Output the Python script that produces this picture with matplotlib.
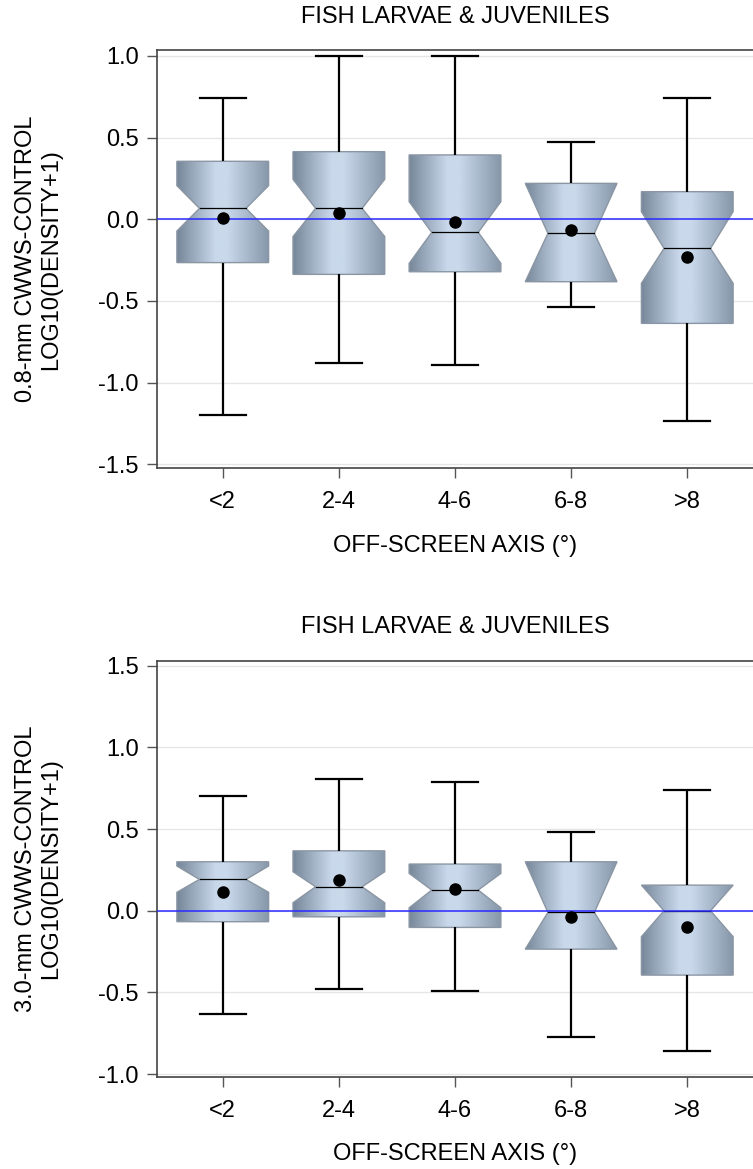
import numpy as np
import matplotlib.pyplot as plt
from matplotlib.colors import LinearSegmentedColormap
from matplotlib.patches import Polygon

plt.rcParams['font.family'] = ['Liberation Sans', 'DejaVu Sans']

cats = ['<2', '2-4', '4-6', '6-8', '>8']

# top panel: 0.8-mm CWWS minus control, log10(density+1)
top_whislo = [-1.20, -0.88, -0.89, -0.535, -1.235]
top_q1 = [-0.265, -0.337, -0.321, -0.382, -0.637]
top_notch_lo = [-0.072, -0.106, -0.27, -0.382, -0.392]
top_med = [0.067, 0.067, -0.080, -0.086, -0.178]
top_notch_hi = [0.206, 0.245, 0.108, 0.220, 0.047]
top_q3 = [0.355, 0.414, 0.394, 0.220, 0.169]
top_whishi = [0.744, 1.0, 1.0, 0.475, 0.740]
top_mean = [0.010, 0.040, -0.018, -0.065, -0.233]

# bottom panel: 3.0-mm CWWS minus control
bot_whislo = [-0.633, -0.479, -0.490, -0.772, -0.857]
bot_q1 = [-0.067, -0.037, -0.102, -0.235, -0.394]
bot_notch_lo = [0.113, 0.049, 0.018, -0.235, -0.159]
bot_med = [0.192, 0.147, 0.127, -0.010, 0.0]
bot_notch_hi = [0.274, 0.239, 0.229, 0.300, 0.157]
bot_q3 = [0.300, 0.367, 0.286, 0.300, 0.157]
bot_whishi = [0.704, 0.805, 0.786, 0.484, 0.739]
bot_mean = [0.113, 0.188, 0.133, -0.040, -0.102]

box_cmap = LinearSegmentedColormap.from_list(
    'box', [(0.0, '#77879a'), (0.42, '#c9d9eb'), (0.55, '#c9d9eb'), (1.0, '#8797aa')])
grad = np.linspace(0, 1, 256).reshape(1, -1)


def notched_box(ax, x, lo, q1, nlo, med, nhi, q3, hi, mean, w=0.79, nw=0.40):
    # outline: right side top->bottom, then left side bottom->top
    right = [(x + w / 2, q3)]
    if nhi < q3:
        right.append((x + w / 2, nhi))
    right.append((x + nw / 2, med))
    if nlo > q1:
        right.append((x + w / 2, nlo))
    right.append((x + w / 2, q1))
    left = [(2 * x - px, py) for px, py in right[::-1]]
    poly = Polygon(right + left, closed=True, facecolor='none',
                   edgecolor='#8a96a3', lw=1.0, zorder=3)
    ax.add_patch(poly)
    im = ax.imshow(grad, cmap=box_cmap, extent=(x - w / 2, x + w / 2, q1, q3),
                   aspect='auto', zorder=2, interpolation='bilinear')
    im.set_clip_path(poly)
    # whiskers + caps
    ax.plot([x, x], [q3, hi], color='black', lw=1.6, zorder=3, solid_capstyle='butt')
    ax.plot([x, x], [q1, lo], color='black', lw=1.6, zorder=3, solid_capstyle='butt')
    ax.plot([x - 0.2, x + 0.2], [hi, hi], color='black', lw=1.6, zorder=3)
    ax.plot([x - 0.2, x + 0.2], [lo, lo], color='black', lw=1.6, zorder=3)
    ax.plot([x - nw / 2, x + nw / 2], [med, med], color='black', lw=0.9, zorder=4)
    ax.plot([x], [mean], 'o', color='black', ms=8, zorder=5)


def panel(ax, whislo, q1, nlo, med, nhi, q3, whishi, mean, ylim, ylabel):
    pos = np.arange(1, len(cats) + 1)
    for i in range(len(cats)):
        notched_box(ax, pos[i], whislo[i], q1[i], nlo[i], med[i], nhi[i],
                    q3[i], whishi[i], mean[i])
    ax.axhline(0, color='#2a2aff', lw=1.1, zorder=4)
    ax.set_xlim(0.434, 5.566)
    ax.set_ylim(*ylim)
    ax.set_xticks(pos)
    ax.set_xticklabels(cats)
    ax.yaxis.grid(True, color='#e6e6e6', lw=1.0, zorder=0)
    ax.set_axisbelow(True)
    for s in ['left', 'top', 'bottom']:
        ax.spines[s].set_color('#444444')
        ax.spines[s].set_linewidth(1.2)
    ax.spines['right'].set_visible(False)
    ax.tick_params(axis='both', length=7.2, width=1, color='#555555', labelsize=17)
    ax.tick_params(axis='x', pad=9)
    ax.tick_params(axis='y', pad=6)
    ax.text(0.5, 1.08, 'FISH LARVAE & JUVENILES', transform=ax.transAxes,
            ha='center', va='center', fontsize=17)
    ax.text(0.5, -0.185, 'OFF-SCREEN AXIS (°)', transform=ax.transAxes,
            ha='center', va='center', fontsize=17)
    ax.text(-0.199, 0.5, ylabel, transform=ax.transAxes, rotation=90,
            ha='center', va='center', multialignment='center', fontsize=17)


fig = plt.figure(figsize=(7.53, 11.69), dpi=100)
ax1 = fig.add_axes([0.2085, 0.5994, 0.7915, 0.3578])
ax2 = fig.add_axes([0.2085, 0.0784, 0.7915, 0.3564])

panel(ax1, top_whislo, top_q1, top_notch_lo, top_med, top_notch_hi, top_q3,
      top_whishi, top_mean, (-1.524, 1.036),
      '0.8-mm CWWS-CONTROL\nLOG10(DENSITY+1)')
ax1.set_yticks([-1.5, -1.0, -0.5, 0.0, 0.5, 1.0])
ax1.set_yticklabels(['-1.5', '-1.0', '-0.5', '0.0', '0.5', '1.0'])

panel(ax2, bot_whislo, bot_q1, bot_notch_lo, bot_med, bot_notch_hi, bot_q3,
      bot_whishi, bot_mean, (-1.02, 1.531),
      '3.0-mm CWWS-CONTROL\nLOG10(DENSITY+1)')
ax2.set_yticks([-1.0, -0.5, 0.0, 0.5, 1.0, 1.5])
ax2.set_yticklabels(['-1.0', '-0.5', '0.0', '0.5', '1.0', '1.5'])

fig.savefig('out.png', dpi=100)
